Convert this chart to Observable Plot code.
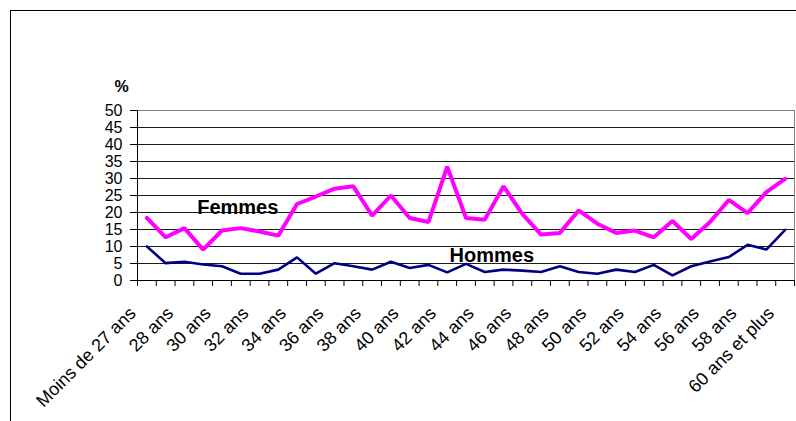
<!DOCTYPE html>
<html>
<head>
<meta charset="utf-8">
<script src="https://cdn.jsdelivr.net/npm/d3@7"></script>
<script src="https://cdn.jsdelivr.net/npm/@observablehq/plot@0.6"></script>
<style>
  html, body { margin: 0; padding: 0; background: #fff; color: #000; }
  #wrap { position: relative; width: 796px; height: 421px; overflow: hidden; }
  #border { position: absolute; left: 10px; top: 10px; width: 800px; height: 420px;
            border-left: 1px solid #000; border-top: 1px solid #000; box-sizing: border-box; }
  #chart { position: absolute; left: 0; top: 0; width: 796px; }
</style>
</head>
<body>
<div id="wrap"><div id="border"></div><div id="chart"></div></div>
<script>
const categories = [
  "Moins de 27 ans", "27 ans", "28 ans", "29 ans", "30 ans", "31 ans", "32 ans", "33 ans",
  "34 ans", "35 ans", "36 ans", "37 ans", "38 ans", "39 ans", "40 ans", "41 ans", "42 ans",
  "43 ans", "44 ans", "45 ans", "46 ans", "47 ans", "48 ans", "49 ans", "50 ans", "51 ans",
  "52 ans", "53 ans", "54 ans", "55 ans", "56 ans", "57 ans", "58 ans", "59 ans", "60 ans et plus"
];
const femmes = [18.4, 12.7, 15.4, 9.1, 14.7, 15.4, 14.4, 13.2, 22.5, 24.7, 27.0, 27.7, 19.1, 25.0,
  18.4, 17.2, 33.5, 18.4, 17.9, 27.7, 19.6, 13.5, 14.0, 20.6, 16.7, 14.0, 14.7, 12.7, 17.5, 12.2,
  17.2, 23.7, 19.8, 26.0, 29.9];
const hommes = [10.0, 5.1, 5.5, 4.7, 4.2, 2.0, 2.0, 3.2, 6.8, 2.0, 5.1, 4.2, 3.2, 5.5, 3.7, 4.6,
  2.4, 4.9, 2.5, 3.2, 2.9, 2.5, 4.2, 2.5, 2.0, 3.2, 2.5, 4.6, 1.5, 4.2, 5.6, 6.9, 10.5, 9.1, 14.9];
const seriesNames = ["Femmes", "Hommes"];
const yTicks = [0, 5, 10, 15, 20, 25, 30, 35, 40, 45, 50];
const yLabel = "%";

const rows = categories.map((c, i) => ({cat: c, femmes: femmes[i], hommes: hommes[i], i}));

const W = 796, H = 421, mL = 137, mR = 2, mT = 110, mB = 141;
const bw = (W - mL - mR) / categories.length;
const frameH = H - mT - mB;

const chart = Plot.plot({
  width: W, height: H,
  marginLeft: mL, marginRight: mR, marginTop: mT, marginBottom: mB,
  style: {fontFamily: "'Liberation Sans', Arial, sans-serif", color: "#000", background: "transparent"},
  x: {type: "band", domain: categories, padding: 0, round: false, axis: null},
  y: {domain: [0, 50], axis: null},
  marks: [
    Plot.frame({stroke: "#808080"}),
    Plot.ruleY(yTicks.filter(v => v > 0 && v < 50), {stroke: "#1a1a1a"}),
    Plot.ruleY([0], {stroke: "#000"}),
    Plot.ruleX([categories[0]], {dx: -bw / 2, stroke: "#000"}),
    Plot.ruleX(categories, {dx: -bw / 2, insetTop: frameH, insetBottom: -6, stroke: "#000"}),
    Plot.ruleX([categories[categories.length - 1]], {dx: bw / 2, insetTop: frameH, insetBottom: -6, stroke: "#000"}),
    Plot.axisY({ticks: yTicks, tickSize: 7, tickPadding: 8, fontSize: 16, label: null, stroke: "#000"}),
    Plot.line(rows, {x: "cat", y: "femmes", stroke: "#FF00FF", strokeWidth: 4, strokeLinejoin: "miter"}),
    Plot.line(rows, {x: "cat", y: "hommes", stroke: "#000080", strokeWidth: 2.6, strokeLinejoin: "miter"}),
    Plot.text(rows.filter(d => d.i % 2 === 0), {
      x: "cat", text: "cat", frameAnchor: "bottom", rotate: -45, textAnchor: "end",
      lineAnchor: "bottom", dx: -10, dy: 34, fontSize: 18, fill: "#000"
    }),
    Plot.text([yLabel], {frameAnchor: "top-left", dx: -23, dy: -30, fontWeight: "bold", fontSize: 16, fill: "#000"}),
    Plot.text([{name: seriesNames[0], cat: "31 ans", v: 21.5}], {x: "cat", y: "v", text: "name", dx: -3, fontWeight: "bold", fontSize: 20, fill: "#000"}),
    Plot.text([{name: seriesNames[1], cat: "44 ans", v: 7.2}], {x: "cat", y: "v", text: "name", dx: 7, fontWeight: "bold", fontSize: 20, fill: "#000"})
  ]
});
document.getElementById("chart").appendChild(chart);
</script>
</body>
</html>
